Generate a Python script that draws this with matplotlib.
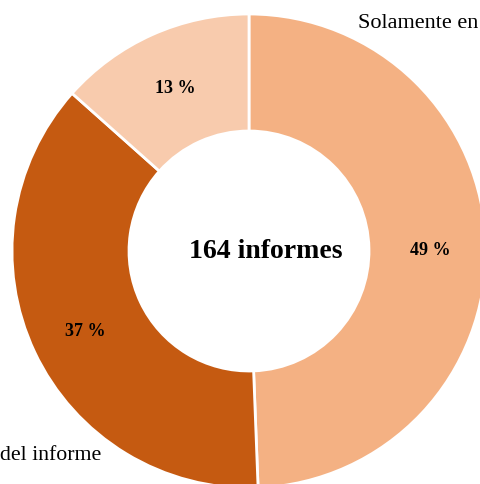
import matplotlib
matplotlib.use("Agg")
import matplotlib.pyplot as plt

categories = ["Solamente en", "del informe", "Otros"]
values = [81, 61, 22]
colors = ["#F4B183", "#C55A11", "#F8CBAD"]
total_label = "164 informes"

W, H = 481, 485
fig = plt.figure(figsize=(W / 100, H / 100), dpi=100)
ax = fig.add_axes([0, 0, 1, 1])

cx, cy, R = 249, H - 252, 237
wedges, texts, autotexts = ax.pie(
    values, colors=colors, startangle=90, counterclock=False,
    center=(cx, cy), radius=R, frame=True,
    autopct=lambda p: f"{p:.0f} %", pctdistance=0.765,
    wedgeprops=dict(width=117, edgecolor="white", linewidth=2),
    textprops=dict(family="Liberation Serif", fontsize=13, fontweight="bold", color="black"),
)
for t in autotexts:
    x, y = t.get_position()
    t.set_position((x, y - 2))
ax.set_xlim(0, W)
ax.set_ylim(0, H)
ax.set_aspect("equal")
ax.axis("off")

ax.text(266, H - 252, total_label, ha="center", va="center", family="Liberation Serif",
        fontsize=20, fontweight="bold")
ax.text(358, H - 24, categories[0], ha="left", va="center", family="Liberation Serif", fontsize=16)
ax.text(101, H - 456, categories[1], ha="right", va="center", family="Liberation Serif", fontsize=15.7)

fig.savefig("out.png", dpi=100)
